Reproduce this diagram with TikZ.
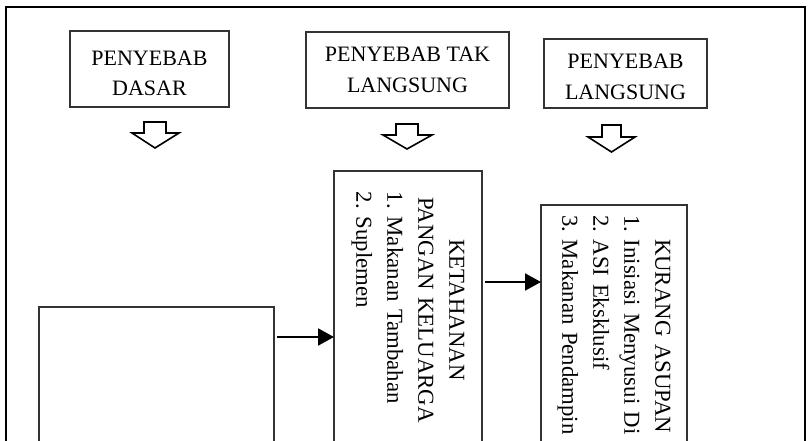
\documentclass[tikz,border=0pt]{standalone}
\usepackage{fontspec}
\setmainfont{Liberation Serif}
\usetikzlibrary{arrows.meta}
\begin{document}
\begin{tikzpicture}[x=1pt,y=-1pt,
  every node/.style={font=\fontsize{22}{30.5}\selectfont\frenchspacing, inner sep=0pt, outer sep=0pt},
  topbox/.style={draw=black!80, line width=1.2pt, align=center},
  vbox/.style={draw=black!80, line width=1.2pt, rotate=-90, font=\fontsize{22.8}{31}\selectfont\frenchspacing},
  frame/.style={draw=black, line width=2pt},
  hollow/.style={draw=black, line width=1.6pt, fill=white, line join=miter},
  conn/.style={line width=2pt, -{Triangle[length=16pt,width=17pt]}}
]
\useasboundingbox (0,0) rectangle (809,441);
\draw[frame] (6,7) rectangle (805,480);

\node[topbox, minimum width=159pt, minimum height=76pt] (dasar) at (149.5,69) {\rule{0pt}{23pt}PENYEBAB\\DASAR};
\node[topbox, minimum width=203pt, minimum height=76pt] (taklang) at (407.5,70) {PENYEBAB TAK\\LANGSUNG};
\node[topbox, minimum width=163pt, minimum height=69pt] (lang) at (625.5,73.5) {\rule{0pt}{21pt}PENYEBAB\\LANGSUNG};

\draw[hollow] (144,122) -- (144,133) -- (132,133) -- (155,148) -- (179,133) -- (166,133) -- (166,122) -- cycle;
\draw[hollow] (396,124) -- (396,135) -- (383,135) -- (407,149) -- (432,135) -- (418,135) -- (418,124) -- cycle;
\draw[hollow] (602,125) -- (602,137) -- (588,137) -- (611.5,152) -- (635,137) -- (621,137) -- (621,125) -- cycle;

\node[draw=black!80, line width=1.2pt, anchor=north west, minimum width=235pt, minimum height=200pt] (base) at (39,307) {};

\node[vbox, minimum width=278pt, minimum height=148pt, text width=236pt, align=center] (keta) at (408,310)
  {KETAHANAN\\PANGAN KELUARGA\\\makebox[236pt][l]{1. Makanan Tambahan}\\\makebox[236pt][l]{2. Suplemen}};

\node[vbox, anchor=south west, minimum height=146pt, inner xsep=10pt, text width=280pt, align=left] (kur) at (541,205)
  {\hspace*{24pt}KURANG ASUPAN\\1. Inisiasi Menyusui Di\\2. ASI Eksklusif\\3. Makanan Pendampin};

\coordinate (p1) at ([yshift=-30pt]base.north east);
\draw[conn] ([xshift=3pt]p1) -- (p1 -| keta.south);
\coordinate (p2) at ([yshift=-111pt]keta.north west);
\draw[conn] ([xshift=3pt]p2) -- (p2 -| kur.south);
\end{tikzpicture}
\end{document}
